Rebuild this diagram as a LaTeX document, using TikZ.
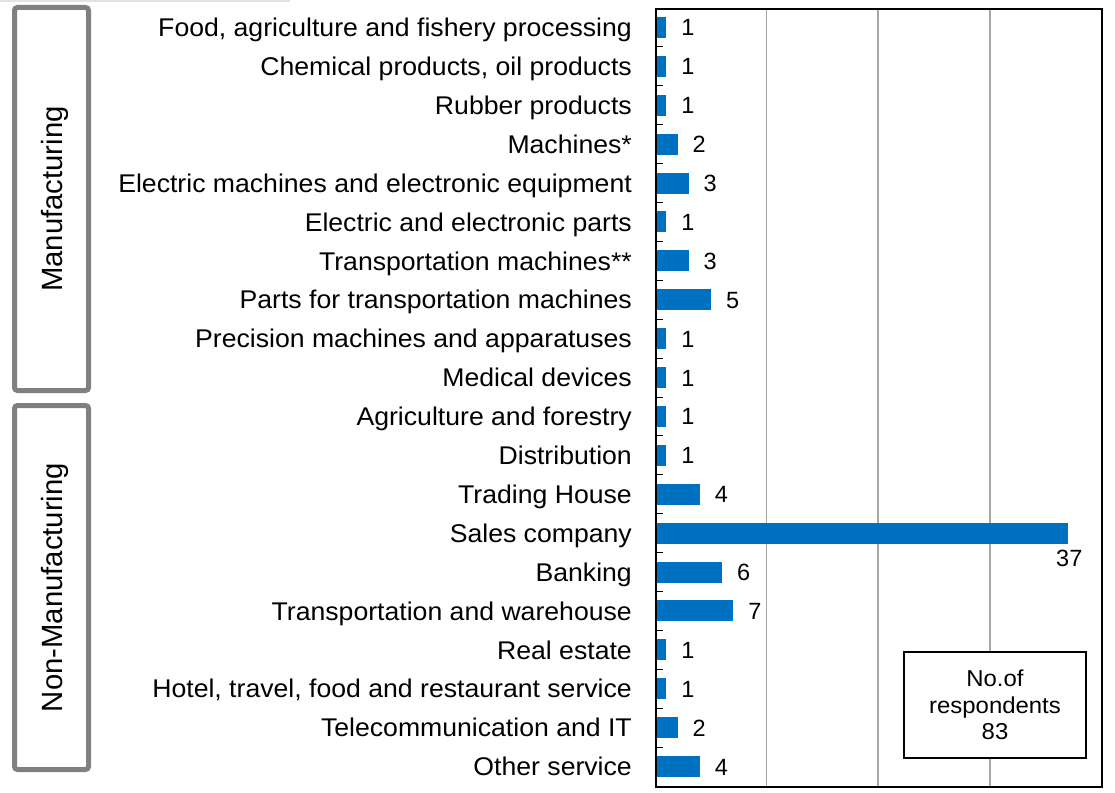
\documentclass[tikz,border=0pt]{standalone}
\usepackage{fontspec}
\setmainfont{Liberation Sans}
\newfontfamily\catfont[FakeStretch=1.04]{Liberation Sans}
\definecolor{barblue}{HTML}{0070C0}
\definecolor{grpgray}{HTML}{808080}
\definecolor{gridgray}{HTML}{A6A6A6}
\tikzset{
  catlabel/.style={anchor=base east,inner sep=0pt,font=\catfont\fontsize{25.6}{30}\selectfont},
  valtext/.style={inner sep=0pt,font=\fontsize{23.5}{28}\selectfont},
  barbox/.style={fill=barblue,draw=none,inner sep=0pt,minimum height=21pt,anchor=west},
  grpbox/.style={draw=grpgray,line width=5pt,rounded corners=3pt,inner sep=0pt},
  grplabel/.style={inner sep=0pt,rotate=90,anchor=base,font=\fontsize{29.3}{34}\selectfont},
  gridline/.style={draw=gridgray,line width=1.5pt},
  axisframe/.style={draw=black,line width=2pt},
  legendbox/.style={draw=black,line width=1.5pt,fill=white,inner sep=0pt,
    minimum width=182pt,minimum height=106pt,align=center,
    font=\catfont\fontsize{23}{26.5}\selectfont}
}
\begin{document}
\begin{tikzpicture}[x=1pt,y=-1pt]
\useasboundingbox (0,0) rectangle (1115,792);
% faint top strip
\fill[gray!22] (0,0) rectangle (290,2.5);
% group boxes
\node[grpbox,minimum width=74pt,minimum height=383pt] (mfgbox) at (51.5,199) {};
\node[grpbox,minimum width=74pt,minimum height=364pt] (nmfgbox) at (51.5,587.5) {};
\node[grplabel] (mfglab) at (62,199) {Manufacturing};
\node[grplabel] (nmfglab) at (62,587.5) {Non-Manufacturing};
% grid
\foreach \gx/\gn in {766.6/g1,878.2/g2,989.8/g3}{
  \coordinate (\gn t) at (\gx,8);
  \coordinate (\gn b) at (\gx,786);
  \draw[gridline] (\gn t) -- (\gn b);
}
% bars and labels
\foreach \i/\t/\v in {
 0/{Food, agriculture and fishery processing}/1,
 1/{Chemical products, oil products}/1,
 2/{Rubber products}/1,
 3/{Machines*}/2,
 4/{Electric machines and electronic equipment}/3,
 5/{Electric and electronic parts}/1,
 6/{Transportation machines**}/3,
 7/{Parts for transportation machines}/5,
 8/{Precision machines and apparatuses}/1,
 9/{Medical devices}/1,
 10/{Agriculture and forestry}/1,
 11/{Distribution}/1,
 12/{Trading House}/4,
 14/{Banking}/6,
 15/{Transportation and warehouse}/7,
 16/{Real estate}/1,
 17/{Hotel, travel, food and restaurant service}/1,
 18/{Telecommunication and IT}/2,
 19/{Other service}/4}{
  \pgfmathsetmacro{\yc}{8+38.9*(\i+0.5)}
  \pgfmathsetmacro{\yb}{\yc+9.2}
  \pgfmathsetmacro{\bw}{11.16*\v-1}
  \pgfmathsetmacro{\vx}{656+\bw+15}
  \pgfmathsetmacro{\vb}{\yc+8.5}
  \node[catlabel] (lab\i) at (632,\yb) {\t};
  \node[barbox,minimum width=\bw pt] (bar\i) at (656,\yc) {};
  \node[valtext,anchor=base west] (val\i) at (\vx,\vb) {\v};
}
% Sales company
\pgfmathsetmacro{\ys}{8+38.9*13.5}
\node[catlabel] (lab13) at (632,\ys+9.2) {Sales company};
\node[barbox,minimum width=411.9pt] (bar13) at (656,\ys) {};
\node[valtext,anchor=north] (val13) at ([yshift=-6.5pt,xshift=1pt]bar13.south east) {37};
% ticks
\foreach \k in {1,...,19}{
  \coordinate (tk\k a) at (655,8+38.9*\k);
  \coordinate (tk\k b) at (663,8+38.9*\k);
  \draw[line width=1pt] (tk\k a) -- (tk\k b);
}
% frame
\node[axisframe,inner sep=0pt,minimum width=446pt,minimum height=778pt,anchor=north west] (frame) at (655,8) {};
% legend
\node[legendbox] (legend) at (995,705) {No.of\\respondents\\83};
\end{tikzpicture}
\end{document}
